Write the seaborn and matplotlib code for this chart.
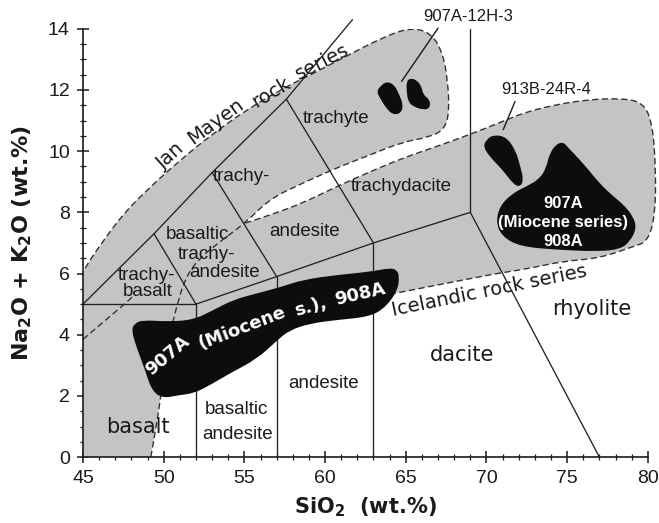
import numpy as np
import pandas as pd
import matplotlib
matplotlib.use("Agg")
import matplotlib.pyplot as plt
from matplotlib.path import Path
from matplotlib.patches import PathPatch
from matplotlib.ticker import MultipleLocator
import seaborn as sns

sns.set_theme(style="ticks")
plt.rcParams['font.family'] = ['Liberation Sans', 'DejaVu Sans']
plt.rcParams['mathtext.fontset'] = 'dejavusans'
plt.rcParams['mathtext.default'] = 'bf'

# ---------------- data ----------------
x_ticks = [45, 50, 55, 60, 65, 70, 75, 80]
y_ticks = [0, 2, 4, 6, 8, 10, 12, 14]

# TAS field boundaries (Le Bas et al.), one list of vertices per segment
tas_segments = {
    "basalt_top": [(45, 5), (52, 5)],
    "x52": [(52, 0), (52, 5)],
    "x57": [(57, 0), (57, 5.9)],
    "x63": [(63, 0), (63, 7)],
    "alkali_line": [(52, 5), (57, 5.9), (63, 7), (69, 8)],
    "dacite_rhyolite": [(69, 8), (77, 0)],
    "upper_left": [(45, 5), (49.4, 7.3), (53, 9.3), (57.6, 11.7), (61.7, 14.3)],
    "tb_bta": [(49.4, 7.3), (52, 5)],
    "bta_ta": [(53, 9.3), (57, 5.9)],
    "ta_td": [(57.6, 11.7), (63, 7)],
    "x69": [(69, 8), (69, 14)],
}

# Jan Mayen rock series field (outline, open part is dashed)
jm_x = [49.1, 49.2, 49.5, 49.8, 50.1, 50.5, 50.9, 51.3, 52.1, 53.5, 55.05, 56.6, 58.6,
        60.7, 62.8, 64.8, 66.4, 67.4, 67.7, 67.6, 67.3, 66.6, 65.3, 63.5, 61.3, 59.3,
        57.2, 55.0, 53.0, 51.0, 49.0, 47.5, 46.3, 45.5, 45.0, 44.6]
jm_y = [-0.3, 0.0, 0.9, 1.9, 3.2, 4.3, 5.1, 5.8, 6.45, 7.05, 7.65, 8.45, 8.95,
        9.45, 9.88, 10.3, 10.45, 10.7, 11.3, 12.3, 13.2, 13.85, 14.05, 13.7, 13.1, 12.55,
        12.0, 11.3, 10.55, 9.7, 8.75, 7.95, 7.1, 6.5, 6.05, 5.6]
jm_close_x = [44.0, 44.0, 49.0]
jm_close_y = [5.0, -1.0, -1.0]

# Icelandic rock series field
ic_x = [55.05, 56.8, 58.6, 60.7, 62.8, 64.8, 66.9, 69.0, 71.0, 72.3, 74.1, 76.2, 78.3,
        79.7, 80.3, 80.5, 80.45, 80.0, 79.1, 77.0, 74.7, 72.5, 70.6, 67.5, 64.3]
ic_y = [7.65, 7.95, 8.3, 8.84, 9.33, 9.77, 10.15, 10.55, 10.97, 11.25, 11.5, 11.68, 11.73,
        11.6, 10.9, 9.3, 7.9, 7.05, 6.88, 6.5, 6.4, 6.15, 6.0, 5.68, 5.35]
ic_close_x = [61.5, 58.0, 55.0, 52.0, 50.3, 50.0, 52.0]
ic_close_y = [5.1, 4.6, 3.9, 3.4, 3.5, 5.5, 7.0]
ic_left_x = [45.0, 45.8, 47.5, 48.2]
ic_left_y = [3.85, 4.21, 4.97, 5.3]

# sample fields
miocene_low_x = [48.0, 48.2, 48.7, 50.2, 51.8, 53.1, 54.3, 55.76, 57.2, 58.65, 60.7, 62.8,
                 64.0, 64.45, 64.6, 64.5, 63.8, 62.8, 60.7, 59.1, 57.8, 57.0, 55.76, 54.1,
                 52.7, 51.8, 51.0, 49.9, 49.25, 48.84, 48.3]
miocene_low_y = [4.15, 4.37, 4.48, 4.43, 4.48, 4.81, 5.14, 5.35, 5.55, 5.8, 5.95, 6.06,
                 6.18, 6.12, 5.9, 5.46, 4.92, 4.59, 4.48, 4.37, 4.15, 3.8, 3.2, 2.74,
                 2.3, 2.08, 2.03, 1.92, 2.19, 2.85, 3.61]
miocene_high_x = [74.76, 75.0, 76.0, 77.0, 77.8, 78.5, 79.1, 79.3, 78.9, 78.3, 77.0, 74.55,
                  72.1, 71.0, 70.6, 70.8, 71.6, 72.5, 73.3, 73.7, 73.9, 74.3]
miocene_high_y = [10.3, 10.15, 9.6, 8.95, 8.55, 8.25, 7.86, 7.48, 7.05, 6.8, 6.72, 6.77,
                  6.88, 7.2, 7.64, 8.19, 8.62, 8.85, 9.1, 9.45, 9.9, 10.22]
s913_x = [69.8, 70.0, 70.4, 71.2, 71.8, 72.1, 72.3, 72.1, 71.7, 71.0, 70.2]
s913_y = [10.15, 10.37, 10.53, 10.48, 10.04, 9.5, 9.06, 8.84, 8.9, 9.39, 9.82]
s907a_x = [63.2, 63.4, 63.8, 64.3, 64.6, 64.85, 64.7, 64.2, 63.8, 63.4]
s907a_y = [11.95, 12.11, 12.28, 12.17, 11.84, 11.51, 11.24, 11.19, 11.4, 11.73]
s907b_x = [65.05, 65.26, 65.67, 65.98, 66.08, 66.5, 66.5, 66.08, 65.46, 65.15, 65.05]
s907b_y = [12.28, 12.38, 12.33, 12.11, 11.84, 11.68, 11.4, 11.35, 11.46, 11.62, 11.95]

# rock names: (text, x, y)
field_names = [
    ("trachyte", 60.7, 11.07), ("trachy-", 54.8, 9.17), ("trachydacite", 64.74, 8.84),
    ("andesite", 58.7, 7.36), ("basaltic", 52.1, 7.26), ("trachy-", 52.64, 6.61),
    ("andesite", 53.78, 6.04), ("trachy-", 48.92, 5.95), ("basalt", 49.03, 5.41),
    ("basaltic", 54.54, 1.54), ("andesite", 54.6, 0.75), ("andesite", 59.9, 2.41),
]
wide_names = [("basalt", 48.43, 0.99), ("dacite", 68.46, 3.34), ("rhyolite", 76.5, 4.83)]
jan_mayen_words = [("Jan", 50.43, 9.83, 42), ("Mayen", 53.2, 10.97, 36),
                   ("rock", 56.65, 11.93, 31), ("series", 59.81, 12.93, 27)]
miocene_words = [("907A", 50.27, 3.30, 40), ("(Miocene", 54.85, 4.22, 21),
                 ("s.),", 59.13, 4.91, 16), ("908A", 62.16, 5.33, 13)]
miocene_high_lines = [("907A", 74.74, 8.3), ("(Miocene series)", 74.74, 7.68), ("908A", 74.74, 7.04)]
sample_labels = [("907A-12H-3", 68.9, 14.4, (67.0, 14.02), (64.74, 12.28)),
                 ("913B-24R-4", 73.7, 12.0, (71.77, 11.62), (71.04, 10.7))]


# ---------------- helpers ----------------
def smooth_closed(xs, ys):
    p = np.column_stack([xs, ys])
    m = (p + np.roll(p, -1, axis=0)) / 2
    verts = [m[-1]]
    codes = [Path.MOVETO]
    for i in range(len(p)):
        verts += [p[i], m[i]]
        codes += [Path.CURVE3, Path.CURVE3]
    return Path(verts, codes)


def smooth_open(xs, ys):
    p = np.column_stack([xs, ys])
    m = (p[:-1] + p[1:]) / 2
    verts = [p[0], m[0]]
    codes = [Path.MOVETO, Path.LINETO]
    for i in range(1, len(p) - 1):
        verts += [p[i], m[i]]
        codes += [Path.CURVE3, Path.CURVE3]
    verts.append(p[-1])
    codes.append(Path.LINETO)
    return Path(verts, codes)


# ---------------- figure ----------------
fig = plt.figure(figsize=(6.59, 5.23), dpi=100)
ax = fig.add_axes([0.126, 0.126, 0.857, 0.819])
ax.set_xlim(45, 80)
ax.set_ylim(0, 14)

gray = "#c4c4c4"
dash_col = "#333333"
dash = (0, (4.5, 2.5))

# shaded series fields
jm_path = smooth_closed(jm_x + jm_close_x, jm_y + jm_close_y)
ax.add_patch(PathPatch(jm_path, facecolor=gray, edgecolor="none", zorder=1))
ic_path = smooth_closed(ic_x + ic_close_x, ic_y + ic_close_y)
ax.add_patch(PathPatch(ic_path, facecolor=gray, edgecolor="none", zorder=1, clip_on=False))

# dashed field outlines
for xs, ys, clip in [(jm_x[1:-1], jm_y[1:-1], True), (ic_x, ic_y, False), (ic_left_x, ic_left_y, True)]:
    ax.add_patch(PathPatch(smooth_open(xs, ys), facecolor="none", edgecolor=dash_col,
                           lw=1.0, linestyle=dash, zorder=2, clip_on=clip))

# TAS boundaries
rows = []
for name, pts in tas_segments.items():
    for i, (x, y) in enumerate(pts):
        rows.append({"seg": name, "order": i, "x": x, "y": y})
tas_df = pd.DataFrame(rows)
sns.lineplot(data=tas_df, x="x", y="y", units="seg", estimator=None, sort=False,
             color="#222222", lw=0.95, ax=ax, zorder=2.5, clip_on=False)

# black sample fields
for xs, ys in [(miocene_low_x, miocene_low_y), (miocene_high_x, miocene_high_y),
               (s913_x, s913_y), (s907a_x, s907a_y), (s907b_x, s907b_y)]:
    ax.add_patch(PathPatch(smooth_closed(xs, ys), facecolor="#0d0d0d", edgecolor="none",
                           zorder=3, clip_on=False))

# labels of the rock fields
for txt, x, y in field_names:
    ax.text(x, y, txt, fontsize=13.5, color="#1a1a1a", ha="center", va="center",
            family="Liberation Sans", zorder=4)
for txt, x, y in wide_names:
    ax.text(x, y, txt, fontsize=15, color="#1a1a1a", ha="center", va="center",
            family="DejaVu Sans", zorder=4)

for txt, x, y, rot in jan_mayen_words:
    ax.text(x, y, txt, fontsize=14, color="#1a1a1a", ha="center", va="center", rotation=rot,
            rotation_mode="anchor", family="DejaVu Sans", zorder=4)
ax.text(70.2, 5.42, "Icelandic rock series", fontsize=14, color="#1a1a1a", ha="center",
        va="center", rotation=11.5, rotation_mode="anchor", family="DejaVu Sans", zorder=4)

for txt, x, y, rot in miocene_words:
    ax.text(x, y, txt, fontsize=13, color="white", fontweight="bold", ha="center",
            va="center", rotation=rot, rotation_mode="anchor", family="DejaVu Sans", zorder=4)
for txt, x, y in miocene_high_lines:
    ax.text(x, y, txt, fontsize=12, color="white", fontweight="bold", ha="center",
            va="center", family="Liberation Sans", zorder=4)

for txt, x, y, p0, p1 in sample_labels:
    ax.text(x, y, txt, fontsize=12, color="#1a1a1a", ha="center", va="center",
            family="Liberation Sans", zorder=4)
    ax.plot([p0[0], p1[0]], [p0[1], p1[1]], color="#1a1a1a", lw=1.0, zorder=4, clip_on=False)

# axes styling
ax.set_xticks(x_ticks)
ax.set_yticks(y_ticks)
ax.xaxis.set_minor_locator(MultipleLocator(1))
ax.yaxis.set_minor_locator(MultipleLocator(0.5))
ax.tick_params(which="major", direction="inout", length=9, width=1.1, color="#1a1a1a",
               labelsize=14, labelcolor="#1a1a1a")
ax.tick_params(axis="x", which="major", pad=5)
ax.tick_params(axis="y", which="major", pad=5)
ax.tick_params(which="minor", direction="inout", length=5, width=0.9, color="#1a1a1a")
for lab in ax.get_xticklabels() + ax.get_yticklabels():
    lab.set_family("Liberation Sans")
sns.despine(ax=ax)
for s in ["left", "bottom"]:
    ax.spines[s].set_linewidth(1.2)
    ax.spines[s].set_color("#1a1a1a")
    ax.spines[s].set_zorder(5)

ax.set_xlabel("SiO$_2$  (wt.%)", fontsize=15, fontweight="bold", family="DejaVu Sans",
              color="#1a1a1a", labelpad=6)
ax.set_ylabel("Na$_2$O + K$_2$O (wt.%)", fontsize=16, fontweight="bold", family="DejaVu Sans",
              color="#1a1a1a", labelpad=10)
ax.grid(False)

fig.savefig("out.png", dpi=100)
